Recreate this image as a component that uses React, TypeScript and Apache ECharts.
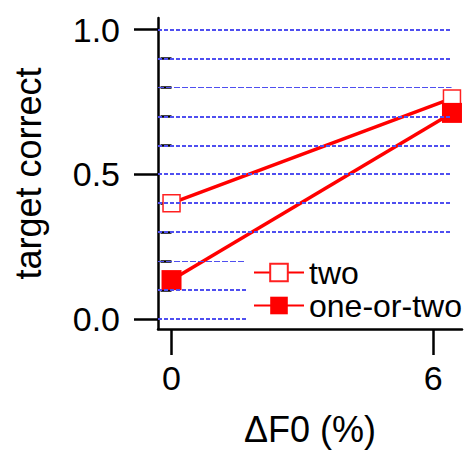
import React, { useEffect, useRef } from "react";
import * as echarts from "echarts";

const xTicks = [0, 6];
const yMajorTicks = [0, 0.5, 1.0];
const yMinorTicks = [0.1, 0.2, 0.3, 0.4, 0.6, 0.7, 0.8, 0.9];
const gridLevels = [0, 0.1, 0.2, 0.3, 0.4, 0.5, 0.6, 0.7, 0.8, 0.9, 1.0];
const thinGridLevels = [0.2, 0.8];
const seriesNames = ["two", "one-or-two"];
const twoValues: [number, number][] = [
  [0, 0.4],
  [6.43, 0.762],
];
const oneOrTwoValues: [number, number][] = [
  [0, 0.134],
  [6.43, 0.712],
];
const xMin = -0.31;
const xMax = 6.66;
const yMin = -0.035;
const yMax = 1.04;
const gridLineEnd = 6.42;

const FONT = "Liberation Sans, Arial, Helvetica, sans-serif";

export default function App() {
  const ref = useRef<HTMLDivElement>(null);
  useEffect(() => {
    if (!ref.current) return;
    const chart = echarts.init(ref.current, null, { renderer: "svg" });
    const axisLineStyle = { color: "#000", width: 2.5 };
    chart.setOption({
      animation: false,
      backgroundColor: "#fff",
      textStyle: { fontFamily: FONT },
      grid: { left: 158, right: 3, top: 18, bottom: 119, containLabel: false },
      xAxis: {
        type: "value",
        min: xMin,
        max: xMax,
        name: "ΔF0 (%)",
        nameLocation: "middle",
        nameGap: 82,
        nameTextStyle: { fontSize: 36, color: "#000", fontFamily: FONT },
        axisLine: { show: true, onZero: false, lineStyle: axisLineStyle },
        axisTick: {
          show: true,
          inside: false,
          length: 26,
          lineStyle: { color: "#000", width: 2.5 },
          customValues: xTicks,
        },
        axisLabel: {
          show: true,
          fontSize: 34,
          color: "#000",
          margin: 32,
          fontFamily: FONT,
          customValues: xTicks,
          formatter: (v: number) => String(v),
        },
        splitLine: { show: false },
      },
      yAxis: [
        {
          type: "value",
          position: "left",
          min: yMin,
          max: yMax,
          name: "target correct",
          nameLocation: "middle",
          nameGap: 112,
          nameTextStyle: { fontSize: 36, color: "#000", fontFamily: FONT },
          axisLine: { show: true, onZero: false, lineStyle: axisLineStyle },
          axisTick: {
            show: true,
            length: 24,
            lineStyle: { color: "#000", width: 2.5 },
            customValues: yMajorTicks,
          },
          axisLabel: {
            show: true,
            fontSize: 34,
            color: "#000",
            margin: 38,
            fontFamily: FONT,
            customValues: yMajorTicks,
            formatter: (v: number) => v.toFixed(1),
          },
          splitLine: { show: false },
        },
        {
          type: "value",
          position: "left",
          offset: 0,
          min: yMin,
          max: yMax,
          axisLine: { show: false },
          axisTick: {
            show: true,
            length: 11,
            lineStyle: { color: "#000", width: 2.5 },
            customValues: yMinorTicks,
          },
          axisLabel: { show: false },
          splitLine: { show: false },
        },
      ],
      legend: {
        show: true,
        z: 20,
        zlevel: 0,
        data: seriesNames,
        orient: "vertical",
        align: "left",
        left: 246,
        top: 252,
        padding: [4, 4, 4, 7],
        itemGap: 0,
        itemWidth: 50,
        itemHeight: 22,
        backgroundColor: "#fff",
        textStyle: { fontSize: 32, color: "#000", fontFamily: FONT, lineHeight: 33 },
      },
      series: [
        {
          name: "grid",
          type: "line",
          data: [],
          z: 1,
          silent: true,
          markLine: {
            silent: true,
            symbol: "none",
            label: { show: false },
            animation: false,
            data: gridLevels.map((v) => {
              const thin = thinGridLevels.includes(v);
              return [
                {
                  coord: [xMin, v],
                  lineStyle: {
                    color: "#4f4ff0",
                    width: thin ? 1.2 : 2.2,
                    type: thin ? [6, 2] : [4, 2],
                    opacity: 1,
                  },
                },
                { coord: [gridLineEnd, v] },
              ];
            }),
          },
        },
        {
          name: seriesNames[0],
          type: "line",
          data: twoValues,
          z: 3,
          symbol: "rect",
          symbolSize: 17,
          lineStyle: { color: "#ff0000", width: 3.5 },
          itemStyle: { color: "#ffffff", borderColor: "#ff2020", borderWidth: 1.5 },
        },
        {
          name: seriesNames[1],
          type: "line",
          data: oneOrTwoValues,
          z: 3,
          symbol: "rect",
          symbolSize: 20,
          lineStyle: { color: "#ff0000", width: 3.5 },
          itemStyle: { color: "#ff0000", borderColor: "#ff0000", borderWidth: 0 },
        },
      ],
    });
    return () => chart.dispose();
  }, []);
  return (
    <div
      ref={ref}
      style={{ position: "absolute", left: 0, top: 0, width: 465, height: 452 }}
    />
  );
}
